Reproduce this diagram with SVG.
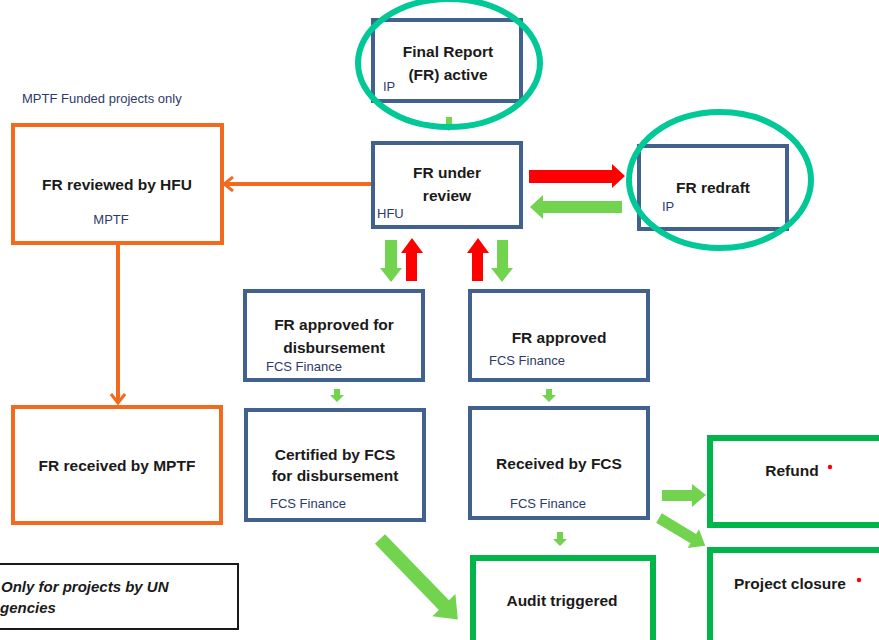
<svg xmlns="http://www.w3.org/2000/svg" width="879" height="640" viewBox="0 0 879 640">
<defs>
<style>
.bx{fill:#fff;stroke:#41618F;stroke-width:4}
.or{fill:#fff;stroke:#F26A1E;stroke-width:4}
.gr{fill:#fff;stroke:#00B54A;stroke-width:6}
.t{font-family:"Liberation Sans",Arial,sans-serif;font-weight:bold;font-size:15.5px;fill:#1a1a1a;text-anchor:middle}
.s{font-family:"Liberation Sans",Arial,sans-serif;font-size:13px;fill:#2E3A6A}
.ga{fill:#72D34E}
.ra{fill:#FF0000}
.ring{fill:none;stroke:#00C896;stroke-width:6}
</style>
<marker id="oh" viewBox="0 0 12 16" refX="10" refY="8" markerWidth="12" markerHeight="16" markerUnits="userSpaceOnUse" orient="auto">
<polyline points="1,1 10,8 1,15" fill="none" stroke="#F26A1E" stroke-width="3"/>
</marker>
</defs>
<rect width="879" height="640" fill="#fff"/>

<g id="connectors">
<path d="M373,184 H224" fill="none" stroke="#F26A1E" stroke-width="4" marker-end="url(#oh)"/>
<path d="M118,243 V403" fill="none" stroke="#F26A1E" stroke-width="4" marker-end="url(#oh)"/>
<polygon class="ga" points="446,117 452,117 452,124 456,124 449,131 442,124 446,124"/>
<polygon class="ra" points="529,170 612,170 612,164 625,176 612,188 612,183 529,183"/>
<polygon class="ga" points="622,201 543,201 543,195 530,207 543,219 543,213 622,213"/>
<polygon class="ga" points="385,240 397,240 397,268 402,268 391,282 380,268 385,268"/>
<polygon class="ra" points="406,281 417,281 417,253 423,253 412,238 401,253 406,253"/>
<polygon class="ra" points="472,281 483,281 483,253 489,253 478,238 467,253 472,253"/>
<polygon class="ga" points="497,240 508,240 508,268 513,268 502,282 491,268 497,268"/>
<polygon class="ga" points="334,389 340,389 340,395 344,395 337,402 330,395 334,395"/>
<polygon class="ga" points="546,389 552,389 552,395 556,395 549,402 542,395 546,395"/>
<polygon class="ga" points="557,532 563,532 563,539 567,539 560,546 553,539 557,539"/>
<polygon class="ga" transform="translate(380,539) rotate(46)" points="0,-7 92,-7 92,-16 112,0 92,16 92,7 0,7"/>
<polygon class="ga" points="662,490 692,490 692,484 706,495 692,507 692,501 662,501"/>
<polygon class="ga" transform="translate(659,518) rotate(31)" points="0,-5.5 40,-5.5 40,-11 54,0 40,11 40,5.5 0,5.5"/>
</g>

<g id="n-active">
<rect class="bx" x="373" y="20" width="148" height="81"/>
<text class="t" x="448" y="57">Final Report</text>
<text class="t" x="448" y="80">(FR) active</text>
<text class="s" x="383" y="91">IP</text>
</g>
<ellipse class="ring" cx="449" cy="63" rx="91" ry="64"/>

<g id="n-review">
<rect class="bx" x="373" y="143" width="148" height="84"/>
<text class="t" x="447" y="178">FR under</text>
<text class="t" x="447" y="201">review</text>
<text class="s" x="377" y="218">HFU</text>
</g>

<g id="n-redraft">
<rect class="bx" x="639" y="146" width="148" height="83"/>
<text class="t" x="713" y="193">FR redraft</text>
<text class="s" x="662" y="211">IP</text>
</g>
<ellipse class="ring" cx="720" cy="180" rx="91" ry="68"/>

<text class="s" x="22" y="103">MPTF Funded projects only</text>

<g id="n-hfu">
<rect class="or" x="13" y="125" width="209" height="118"/>
<text class="t" x="117" y="190">FR reviewed by HFU</text>
<text class="s" x="111" y="224" text-anchor="middle">MPTF</text>
</g>

<g id="n-mptf">
<rect class="or" x="13" y="407" width="208" height="116"/>
<text class="t" x="117" y="471">FR received by MPTF</text>
</g>

<g id="n-note">
<rect x="-5" y="564" width="243" height="65" fill="#fff" stroke="#1a1a1a" stroke-width="2"/>
<text x="1" y="592" font-family="'Liberation Sans',Arial,sans-serif" font-size="15px" font-weight="bold" font-style="italic" fill="#1a1a1a">Only for projects by UN</text>
<text x="0" y="613" font-family="'Liberation Sans',Arial,sans-serif" font-size="15px" font-weight="bold" font-style="italic" fill="#1a1a1a">gencies</text>
</g>

<g id="n-appdisb">
<rect class="bx" x="245" y="291" width="178" height="89"/>
<text class="t" x="334" y="330">FR approved for</text>
<text class="t" x="334" y="353">disbursement</text>
<text class="s" x="266" y="371">FCS Finance</text>
</g>

<g id="n-approved">
<rect class="bx" x="470" y="291" width="178" height="89"/>
<text class="t" x="559" y="343">FR approved</text>
<text class="s" x="489" y="365">FCS Finance</text>
</g>

<g id="n-certified">
<rect class="bx" x="246" y="410" width="178" height="110"/>
<text class="t" x="335" y="460">Certified by FCS</text>
<text class="t" x="335" y="481">for disbursement</text>
<text class="s" x="270" y="508">FCS Finance</text>
</g>

<g id="n-received">
<rect class="bx" x="470" y="408" width="178" height="110"/>
<text class="t" x="559" y="469">Received by FCS</text>
<text class="s" x="510" y="508">FCS Finance</text>
</g>

<g id="n-audit">
<rect class="gr" x="473" y="558" width="180" height="90"/>
<text class="t" x="562" y="606">Audit triggered</text>
</g>

<g id="n-refund">
<rect class="gr" x="710" y="438" width="180" height="87"/>
<text class="t" x="792" y="476">Refund</text>
<circle cx="830" cy="467" r="2.2" fill="#FF0000"/>
</g>

<g id="n-closure">
<rect class="gr" x="710" y="550" width="180" height="100"/>
<text class="t" x="790" y="589">Project closure</text>
<circle cx="859" cy="580" r="2.2" fill="#FF0000"/>
</g>
</svg>
